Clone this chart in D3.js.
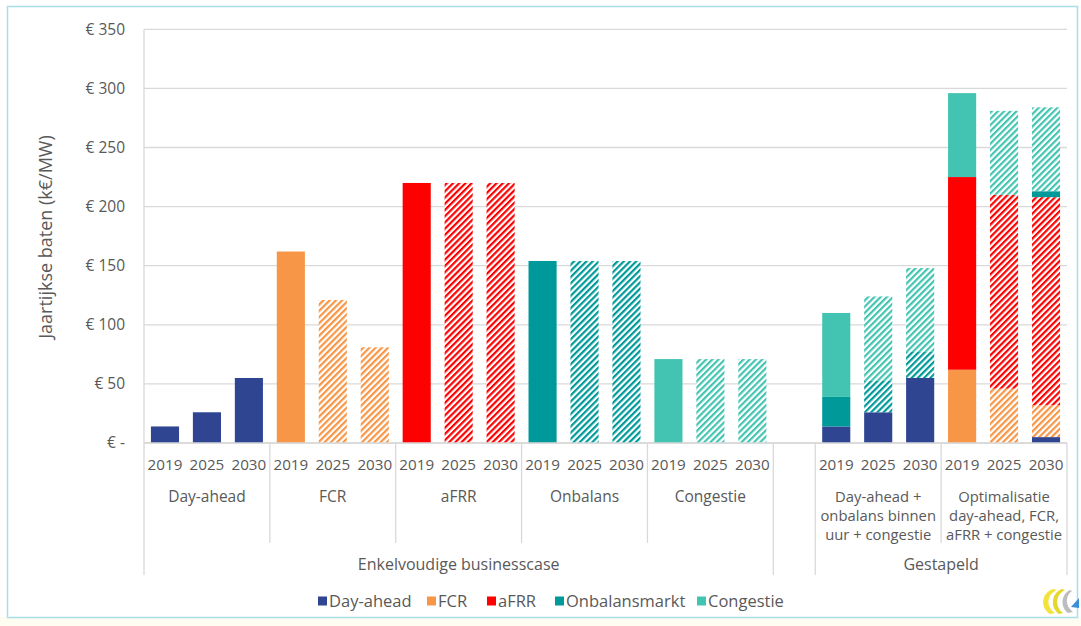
<!DOCTYPE html>
<html>
<head>
<meta charset="utf-8">
<script src="https://cdn.jsdelivr.net/npm/d3@7/dist/d3.min.js"></script>
<style>
  html, body { margin: 0; padding: 0; background: #ffffff; }
  svg { display: block; font-family: "Open Sans", "Liberation Sans", sans-serif; }
</style>
</head>
<body>
<svg id="chart" width="1081" height="626"></svg>
<script>
// ---- data -------------------------------------------------------------
const years = ["2019", "2025", "2030"];

// second-level categories (one per group of three years; [] = spacer slot)
const groups = [
  ["Day-ahead"], ["FCR"], ["aFRR"], ["Onbalans"], ["Congestie"],
  [],
  ["Day-ahead +", "onbalans binnen", "uur + congestie"],
  ["Optimalisatie", "day-ahead, FCR,", "aFRR + congestie"]
];
const groupSizes = [3, 3, 3, 3, 3, 1, 3, 3];

// top-level categories
const sections = ["Enkelvoudige businesscase", "", "Gestapeld"];
const sectionSizes = [15, 1, 6];

const seriesNames = ["Day-ahead", "FCR", "aFRR", "Onbalansmarkt", "Congestie"];
const seriesColors = ["#2F4592", "#F79646", "#FF0000", "#00999A", "#43C4B2"];

// annual revenue per slot (k€/MW); 22 slots incl. the spacer
const dayAhead  = [14, 26, 55,   0, 0, 0,   0, 0, 0,   0, 0, 0,   0, 0, 0,  0,  14, 26, 55,   0, 0, 5];
const fcr       = [0, 0, 0,   162, 121, 81, 0, 0, 0,   0, 0, 0,   0, 0, 0,  0,   0, 0, 0,   62, 46, 27];
const afrr      = [0, 0, 0,   0, 0, 0,   220, 220, 220, 0, 0, 0,  0, 0, 0,  0,   0, 0, 0,   163, 164, 176];
const onbalans  = [0, 0, 0,   0, 0, 0,   0, 0, 0,   154, 154, 154, 0, 0, 0, 0,  25, 27, 22,   0, 0, 5];
const congestie = [0, 0, 0,   0, 0, 0,   0, 0, 0,   0, 0, 0,   71, 71, 71,  0,  71, 71, 71,  71, 71, 71];

// 1 = estimated (hatched) segment, 0 = solid
const hatchDayAhead  = [0,0,0, 0,0,0, 0,0,0, 0,0,0, 0,0,0, 0, 0,0,0, 0,0,0];
const hatchFcr       = [0,0,0, 0,1,1, 0,0,0, 0,0,0, 0,0,0, 0, 0,0,0, 0,1,1];
const hatchAfrr      = [0,0,0, 0,0,0, 0,1,1, 0,0,0, 0,0,0, 0, 0,0,0, 0,1,1];
const hatchOnbalans  = [0,0,0, 0,0,0, 0,0,0, 0,1,1, 0,0,0, 0, 0,1,1, 0,0,0];
const hatchCongestie = [0,0,0, 0,0,0, 0,0,0, 0,0,0, 0,1,1, 0, 0,1,1, 0,1,1];

const yTicks = [0, 50, 100, 150, 200, 250, 300, 350];

// ---- setup -------------------------------------------------------------
const svg = d3.select("#chart");
const textColor = "#595959";
const gridColor = "#D9D9D9";

const seriesValues = [dayAhead, fcr, afrr, onbalans, congestie];
const seriesHatch = [hatchDayAhead, hatchFcr, hatchAfrr, hatchOnbalans, hatchCongestie];

// slot labels: year for real slots, "" for the spacer
const slotYears = [];
groupSizes.forEach(n => { for (let i = 0; i < n; i++) slotYears.push(n === 3 ? years[i] : ""); });
const slotIds = slotYears.map((_, i) => i);

const rows = slotIds.map(i => {
  const r = { slot: i };
  seriesNames.forEach((s, k) => r[s] = seriesValues[k][i]);
  return r;
});

const plot = { left: 144, right: 1067, top: 29.3, bottom: 443 };

const x = d3.scaleBand()
  .domain(slotIds)
  .range([plot.left, plot.right])
  .paddingInner(0.33)
  .paddingOuter(0.165);
const step = x.step();

const y = d3.scaleLinear().domain([0, 350]).range([plot.bottom, plot.top]);

// outer frame
svg.append("rect")
  .attr("x", 0).attr("y", 617).attr("width", 1081).attr("height", 9)
  .attr("fill", "#FFFDF1");
svg.append("rect")
  .attr("x", 7.5).attr("y", 6.5).attr("width", 1070).attr("height", 611)
  .attr("fill", "none").attr("stroke", "#A9DDE9").attr("stroke-width", 1.5);

// hatch patterns
const defs = svg.append("defs");
seriesColors.forEach((c, k) => {
  const p = defs.append("pattern")
    .attr("id", "hatch" + k)
    .attr("patternUnits", "userSpaceOnUse")
    .attr("width", 4.4).attr("height", 4.4)
    .attr("patternTransform", "rotate(45)");
  p.append("rect").attr("width", 4.4).attr("height", 4.4).attr("fill", "#ffffff");
  p.append("rect").attr("width", 2.2).attr("height", 4.4).attr("fill", c);
});

// gridlines
svg.append("g")
  .selectAll("line")
  .data(yTicks)
  .join("line")
  .attr("x1", plot.left).attr("x2", plot.right)
  .attr("y1", d => y(d)).attr("y2", d => y(d))
  .attr("stroke", gridColor).attr("stroke-width", 1.3);

// y axis labels
const yAxis = d3.axisLeft(y)
  .tickValues(yTicks)
  .tickSize(0)
  .tickPadding(19)
  .tickFormat(d => d === 0 ? "€ -" : "€ " + d);
svg.append("g")
  .attr("transform", `translate(${plot.left},0)`)
  .call(yAxis)
  .call(g => g.select(".domain").remove())
  .call(g => g.selectAll("text")
    .attr("fill", textColor)
    .style("font-size", "15.5px")
    .style("font-family", "'Open Sans', sans-serif"));

// y axis title
svg.append("text")
  .attr("transform", "translate(52,237) rotate(-90)")
  .attr("text-anchor", "middle")
  .attr("fill", textColor)
  .style("font-size", "18px")
  .text("Jaartijkse baten (k€/MW)");

// bars
const stack = d3.stack().keys(seriesNames);
const stacked = stack(rows);
const barsG = svg.append("g");
stacked.forEach((layer, k) => {
  barsG.append("g")
    .selectAll("rect")
    .data(layer.filter(d => d[1] - d[0] > 0))
    .join("rect")
    .attr("x", d => x(d.data.slot))
    .attr("width", x.bandwidth())
    .attr("y", d => y(d[1]))
    .attr("height", d => y(d[0]) - y(d[1]))
    .attr("fill", d => seriesHatch[k][d.data.slot] ? `url(#hatch${k})` : seriesColors[k]);
});

// category axis: baseline and separators
const axisG = svg.append("g").attr("stroke", gridColor).attr("stroke-width", 1.3);
axisG.append("line")
  .attr("x1", plot.left).attr("x2", plot.right)
  .attr("y1", plot.bottom).attr("y2", plot.bottom);
axisG.append("line")
  .attr("x1", plot.left).attr("x2", plot.left)
  .attr("y1", plot.top).attr("y2", 575);

// boundaries between groups (short) and sections (long)
const sectionEdges = new Set();
let acc = 0;
sectionSizes.forEach(n => { acc += n; sectionEdges.add(acc); });
const groupEdges = [];
acc = 0;
groupSizes.forEach(n => { acc += n; groupEdges.push(acc); });
const edgeX = i => plot.left + i * step;
groupEdges.forEach(e => {
  axisG.append("line")
    .attr("x1", edgeX(e)).attr("x2", edgeX(e))
    .attr("y1", plot.bottom).attr("y2", sectionEdges.has(e) ? 575 : 543);
});

// year labels
svg.append("g")
  .selectAll("text")
  .data(slotIds.filter(i => slotYears[i] !== ""))
  .join("text")
  .attr("x", i => x(i) + x.bandwidth() / 2)
  .attr("y", 470)
  .attr("text-anchor", "middle")
  .attr("fill", textColor)
  .style("font-size", "15.2px")
  .text(i => slotYears[i]);

// group labels
acc = 0;
groupSizes.forEach((n, gi) => {
  const cx = plot.left + (acc + n / 2) * step;
  acc += n;
  const t = svg.append("text")
    .attr("text-anchor", "middle")
    .attr("fill", textColor)
    .style("font-size", groups[gi].length > 1 ? "14.8px" : "15.5px");
  groups[gi].forEach((line, li) => {
    t.append("tspan").attr("x", cx).attr("y", 502 + li * 19).text(line);
  });
});

// section labels
acc = 0;
sectionSizes.forEach((n, si) => {
  const cx = plot.left + (acc + n / 2) * step;
  acc += n;
  if (!sections[si]) return;
  svg.append("text")
    .attr("x", cx).attr("y", 570)
    .attr("text-anchor", "middle")
    .attr("fill", textColor)
    .style("font-size", "16px")
    .text(sections[si]);
});

// legend
const legendX = [318, 427, 487, 555, 697];
const legend = svg.append("g");
seriesNames.forEach((s, k) => {
  legend.append("rect")
    .attr("x", legendX[k]).attr("y", 596.5)
    .attr("width", 9).attr("height", 9)
    .attr("fill", seriesColors[k]);
  legend.append("text")
    .attr("x", legendX[k] + 11).attr("y", 607)
    .attr("fill", textColor)
    .style("font-size", "16.5px")
    .text(s);
});

// small corner logo
const logo = svg.append("g").attr("transform", "translate(1040,586)");
logo.append("path")
  .attr("d", "M13,3 C1,7 0,22 10,28 L15,27 C6,21 6,9 17,4 Z")
  .attr("fill", "#F2E33C");
logo.append("path")
  .attr("d", "M22,3 C11,7 10,22 19,28 L23,27 C15,21 15,9 25,4 Z")
  .attr("fill", "#E6D72C");
logo.append("path")
  .attr("d", "M30,4 C21,8 20,21 28,27 L33,26 C25,20 25,10 32,5 Z")
  .attr("fill", "#BDBDBD");
logo.append("path")
  .attr("d", "M31,21 L39,12 L39,22 Z")
  .attr("fill", "#3C8FD6");
</script>
</body>
</html>
